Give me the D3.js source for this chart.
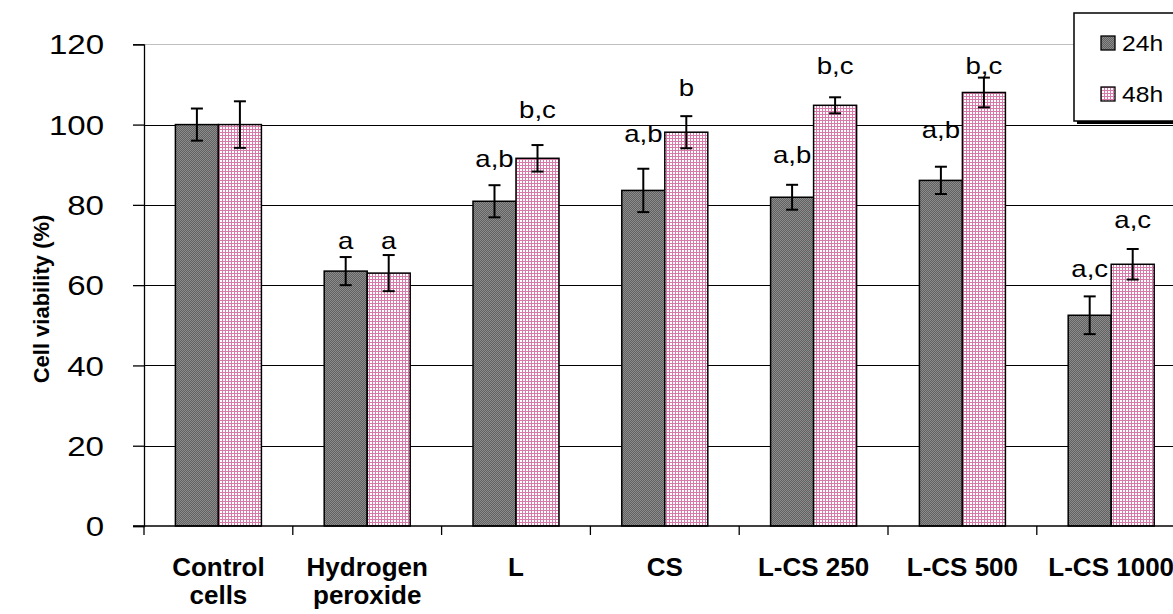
<!DOCTYPE html>
<html><head><meta charset="utf-8">
<script src="https://cdn.jsdelivr.net/npm/d3@7"></script>
<style>body{margin:0;background:#fff}svg{display:block}</style>
</head><body>
<svg id="c" width="1173" height="614"></svg>
<script>
const categories = ["Control\ncells","Hydrogen\nperoxide","L","CS","L-CS 250","L-CS 500","L-CS 1000"];
const seriesNames = ["24h","48h"];
const values24 = [100, 63.5, 80.9, 83.6, 81.9, 86.1, 52.5];
const values48 = [100, 63.0, 91.6, 98.1, 104.8, 108.0, 65.2];
const errors24 = [4.0, 3.5, 4.0, 5.4, 3.1, 3.4, 4.7];
const errors48 = [5.8, 4.5, 3.3, 4.0, 2.0, 3.7, 3.8];
const letters24 = ["", "a", "a,b", "a,b", "a,b", "a,b", "a,c"];
const letters48 = ["", "a", "b,c", "b", "b,c", "b,c", "a,c"];
const letterLevel24 = [0, 69.0, 89.4, 95.6, 90.4, 96.6, 62.0];
const letterLevel48 = [0, 69.0, 101.6, 107.1, 112.5, 112.5, 74.2];
const yTicks = [0,20,40,60,80,100,120];

const svg = d3.select("#c");
const L = 144, T = 44.3, B = 526, catW = 148.8;
const R = L + catW*categories.length;
const y = d3.scaleLinear().domain([0,120]).range([B,T]);
const x0 = d3.scaleBand().domain(categories).range([L,R]).padding(0);
const x1 = d3.scaleBand().domain(seriesNames).range([0,x0.bandwidth()]).paddingInner(0).paddingOuter(0.73);
const FONT = "Liberation Sans, Arial, sans-serif";

const defs = svg.append("defs");
const p1 = defs.append("pattern").attr("id","p24").attr("patternUnits","userSpaceOnUse").attr("width",2).attr("height",2);
p1.append("rect").attr("width",2).attr("height",2).attr("fill","#8c8c8c");
p1.append("path").attr("d","M0,2L2,0M-1,1L1,-1M1,3L3,1").attr("stroke","#555").attr("stroke-width",0.8);
const p2 = defs.append("pattern").attr("id","p48").attr("patternUnits","userSpaceOnUse").attr("width",3).attr("height",3);
p2.append("rect").attr("width",3).attr("height",3).attr("fill","#fff");
p2.append("path").attr("d","M0.5,0V3M0,0.5H3").attr("stroke","#d77aa9").attr("stroke-width",1);

// gridlines
svg.append("g").selectAll("line").data(yTicks.filter(d=>d>0)).join("line")
  .attr("x1",L).attr("x2",1173).attr("y1",d=>Math.round(y(d))+0.5).attr("y2",d=>Math.round(y(d))+0.5)
  .attr("stroke",d=>d===120?"#c0c0c0":"#000").attr("stroke-width",1);

// y axis
const ya = svg.append("g").attr("transform",`translate(${L},0)`)
  .call(d3.axisLeft(y).tickValues(yTicks).tickSize(11).tickFormat(""));
ya.select(".domain").attr("stroke","#000").attr("stroke-width",1.3);
ya.selectAll(".tick line").attr("stroke","#000").attr("stroke-width",1.3);
svg.append("g").selectAll("text").data(yTicks).join("text")
  .attr("transform",d=>`translate(104,${y(d)}) scale(1.18,1)`)
  .attr("text-anchor","end").attr("dy","0.36em")
  .attr("font-family",FONT).attr("font-size",28).attr("fill","#000")
  .text(d=>d);

// y title
svg.append("text").attr("transform","translate(49,299) rotate(-90)").attr("text-anchor","middle")
  .attr("font-family",FONT).attr("font-weight","bold").attr("font-size",22)
  .text("Cell viability (%)");

// bars
const rows = categories.map((c,i)=>[
  {c, s:"24h", v:values24[i], e:errors24[i], t:letters24[i], lv:letterLevel24[i]},
  {c, s:"48h", v:values48[i], e:errors48[i], t:letters48[i], lv:letterLevel48[i]}]).flat();
const g = svg.append("g");
g.selectAll("rect").data(rows).join("rect")
  .attr("x",d=>x0(d.c)+x1(d.s)).attr("width",x1.bandwidth())
  .attr("y",d=>y(d.v)).attr("height",d=>B-y(d.v))
  .attr("fill",d=>d.s==="24h"?"url(#p24)":"url(#p48)")
  .attr("stroke","#000").attr("stroke-width",1.5);

// error bars
const eb = svg.append("g").attr("stroke","#000").attr("stroke-width",2);
rows.forEach(d=>{
  const cx = x0(d.c)+x1(d.s)+x1.bandwidth()/2;
  eb.append("line").attr("x1",cx).attr("x2",cx).attr("y1",y(d.v+d.e)).attr("y2",y(d.v-d.e));
  eb.append("line").attr("x1",cx-6).attr("x2",cx+6).attr("y1",y(d.v+d.e)).attr("y2",y(d.v+d.e));
  eb.append("line").attr("x1",cx-6).attr("x2",cx+6).attr("y1",y(d.v-d.e)).attr("y2",y(d.v-d.e));
});

// letters
svg.append("g").selectAll("text").data(rows.filter(d=>d.t)).join("text")
  .attr("transform",d=>`translate(${x0(d.c)+x1(d.s)+x1.bandwidth()/2},${y(d.lv)}) scale(1.2,1)`)
  .attr("text-anchor","middle")
  .attr("font-family",FONT).attr("font-size",23).attr("fill","#000")
  .text(d=>d.t);

// x axis
svg.append("line").attr("x1",133).attr("x2",1173).attr("y1",B).attr("y2",B).attr("stroke","#000").attr("stroke-width",1.5);
svg.append("g").selectAll("line").data(d3.range(categories.length+1)).join("line")
  .attr("x1",i=>L+i*x0.step()).attr("x2",i=>L+i*x0.step()).attr("y1",B).attr("y2",B+9)
  .attr("stroke","#000").attr("stroke-width",1.3);
const xl = svg.append("g").selectAll("text").data(categories).join("text")
  .attr("text-anchor","middle").attr("font-family",FONT)
  .attr("font-weight","bold").attr("font-size",26).attr("fill","#000");
xl.each(function(c){
  const parts = c.split("\n");
  d3.select(this).selectAll("tspan").data(parts).join("tspan")
    .attr("x",x0(c)+x0.bandwidth()/2).attr("y",(p,i)=>576+i*28).text(p=>p);
});

// legend
const lg = svg.append("g");
lg.append("rect").attr("x",1077).attr("y",16).attr("width",120).attr("height",108).attr("fill","#000");
lg.append("rect").attr("x",1074).attr("y",13).attr("width",120).attr("height",108).attr("fill","#fff").attr("stroke","#000").attr("stroke-width",1.5);
seriesNames.forEach((s,i)=>{
  lg.append("rect").attr("x",1101).attr("y",36+i*51).attr("width",14).attr("height",14)
    .attr("fill",s==="24h"?"url(#p24)":"url(#p48)").attr("stroke","#000").attr("stroke-width",1.3);
  lg.append("text").attr("transform",`translate(1122,${51+i*51}) scale(1.12,1)`)
    .attr("font-family",FONT).attr("font-size",22).text(s);
});
</script>
</body></html>
